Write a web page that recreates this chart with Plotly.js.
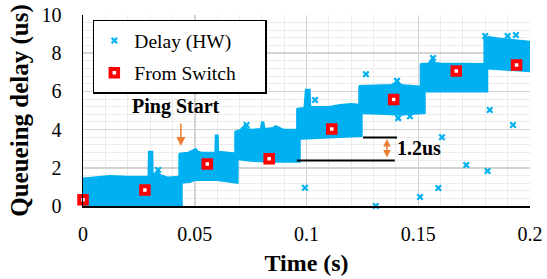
<!DOCTYPE html>
<html><head><meta charset="utf-8">
<script src="https://cdn.plot.ly/plotly-3.0.1.min.js"></script>
<style>html,body{margin:0;padding:0;background:#fff;}#chart{width:547px;height:279px;}</style>
</head><body><div id="chart"></div>
<script>
// ---- Data ----
// Dense HW-delay cloud, one block per step: top edge and bottom edge profiles
const bandTopT = [
  [-0.0008, 0.005, 0.012, 0.020, 0.0292, 0.0294, 0.0311, 0.0313, 0.0328, 0.0334, 0.0342, 0.038, 0.0443],
  [0.0430, 0.047, 0.0505, 0.0515, 0.053, 0.0591, 0.0593, 0.0604, 0.0606, 0.065, 0.0693],
  [0.0680, 0.0705, 0.0725, 0.0735, 0.0755, 0.0795, 0.0800, 0.0808, 0.0813, 0.085, 0.0862, 0.090, 0.0971],
  [0.0957, 0.0990, 0.0996, 0.1015, 0.1018, 0.110, 0.115, 0.120, 0.1248],
  [0.1235, 0.130, 0.138, 0.1405, 0.143, 0.148, 0.1530],
  [0.1510, 0.1545, 0.1562, 0.1575, 0.160, 0.170, 0.1810],
  [0.1795, 0.1815, 0.186, 0.192, 0.197, 0.2013]
];
const bandTopY = [
  [1.45, 1.52, 1.58, 1.55, 1.55, 2.85, 2.85, 1.70, 1.70, 1.95, 1.65, 1.50, 1.55],
  [2.75, 2.80, 3.00, 2.85, 2.80, 2.82, 3.70, 3.70, 2.85, 2.80, 2.75],
  [3.90, 4.00, 4.25, 4.05, 4.00, 4.05, 4.40, 4.40, 4.05, 4.10, 4.20, 4.00, 4.00],
  [5.10, 5.15, 6.10, 6.10, 5.20, 5.20, 5.30, 5.35, 5.30],
  [6.30, 6.33, 6.35, 6.50, 6.33, 6.30, 6.25],
  [7.45, 7.47, 7.72, 7.50, 7.48, 7.47, 7.45],
  [8.80, 8.86, 8.78, 8.70, 8.65, 8.60]
];
const bandBotT = [
  [-0.0008, 0.015, 0.030, 0.0443],
  [0.0430, 0.048, 0.050, 0.060, 0.0693],
  [0.0680, 0.075, 0.085, 0.0971],
  [0.0957, 0.105, 0.115, 0.1248],
  [0.1235, 0.135, 0.142, 0.1530],
  [0.1510, 0.165, 0.1810],
  [0.1795, 0.190, 0.2013]
];
const bandBotY = [
  [-0.05, -0.05, -0.05, -0.05],
  [1.20, 1.25, 1.35, 1.35, 1.20],
  [2.45, 2.35, 2.30, 2.30],
  [3.50, 3.55, 3.60, 3.65],
  [4.85, 4.80, 4.76, 4.85],
  [5.98, 5.97, 5.98],
  [7.20, 7.12, 7.03]
];
// Scattered HW-delay outliers
const outT = [0.0336, 0.0732, 0.0993, 0.1038, 0.1266, 0.1310, 0.1405, 0.1410, 0.1463, 0.1508, 0.1566, 0.1590, 0.1606, 0.1715, 0.1800, 0.1810, 0.1820, 0.1900, 0.1924, 0.1937];
const outY = [1.88, 4.24, 0.96, 5.55, 6.90, 0.00, 6.55, 4.60, 4.70, 0.47, 7.75, 0.94, 3.60, 2.15, 8.90, 1.83, 5.03, 8.90, 4.24, 8.95];
// Values reported by the switch
const swT = [0.000, 0.0277, 0.0556, 0.0833, 0.1113, 0.1390, 0.1670, 0.1940];
const swY = [0.33, 0.84, 2.20, 2.47, 4.03, 5.57, 7.07, 7.38];
// Annotation anchors (data units)
const pingArrowT = 0.0438, pingArrowFrom = 4.40, pingArrowTo = 3.14;
const pingLabelT = 0.0416, pingLabelY = 5.2;
const stepLineUpper = {t0: 0.1253, t1: 0.1405, y: 3.59};
const stepLineLower = {t0: 0.0957, t1: 0.1395, y: 2.38};
const stepArrowT = 0.1360;
const stepLabel = '1.2us';
const xTicks = [0, 0.05, 0.1, 0.15, 0.2];
const xTickText = ['0', '0.05', '0.1', '0.15', '0.2'];
const yTicks = [0, 2, 4, 6, 8, 10];

const BLUE = '#00b0f0', RED = '#ff0000', ORANGE = '#ed7d31';
const FONT = 'Liberation Serif';

const traces = [];
for (let i = 0; i < bandTopT.length; i++) {
  const xs = bandTopT[i].concat(bandBotT[i].slice().reverse());
  const ys = bandTopY[i].concat(bandBotY[i].slice().reverse());
  xs.push(xs[0]); ys.push(ys[0]);
  traces.push({x: xs, y: ys, type: 'scatter', mode: 'lines', fill: 'toself',
    fillcolor: BLUE, line: {color: BLUE, width: 1.5}, showlegend: false, hoverinfo: 'skip'});
}
traces.push({x: outT, y: outY, type: 'scatter', mode: 'markers', name: 'Delay (HW)',
  legendgroup: 'a', marker: {symbol: 'x-thin', size: 5.5, color: BLUE, line: {color: BLUE, width: 2.2}}, cliponaxis: false});
traces.push({x: swT, y: swY, type: 'scatter', mode: 'markers', name: 'From Switch&nbsp;&nbsp;&nbsp;&nbsp;&nbsp;',
  legendgroup: 'b', marker: {symbol: 'square', size: 7.5, color: '#ffffff', line: {color: RED, width: 4}}, cliponaxis: false});

const layout = {
  width: 547, height: 279,
  margin: {l: 83, r: 17, t: 15, b: 73},
  paper_bgcolor: '#fff', plot_bgcolor: '#fff',
  font: {family: FONT, size: 19, color: '#000'},
  showlegend: true,
  legend: {x: 0.022, y: 0.975, xanchor: 'left', yanchor: 'top', bgcolor: '#fff',
    bordercolor: '#000', borderwidth: 1.5, font: {family: FONT, size: 19.5, color: '#000'},
    tracegroupgap: 4, itemsizing: 'trace'},
  xaxis: {range: [0, 0.2], tickvals: xTicks, ticktext: xTickText, showgrid: true,
    gridcolor: '#d4d4d4', gridwidth: 1.5, showline: true, linecolor: '#000', linewidth: 1.5,
    zeroline: false, ticks: '', ticklabelstandoff: 9, tickfont: {family: FONT, size: 20},
    minor: {dtick: 0.01, showgrid: true, gridcolor: '#ececec', gridwidth: 1},
    title: {text: '<b>Time (s)</b>', font: {family: FONT, size: 24}, standoff: 10}},
  yaxis: {range: [0, 10], tickvals: yTicks, showgrid: true,
    gridcolor: '#d4d4d4', gridwidth: 1.5, showline: true, linecolor: '#000', linewidth: 1.5,
    zeroline: false, ticks: '', ticklabelstandoff: 16, tickfont: {family: FONT, size: 20},
    minor: {dtick: 0.4, showgrid: true, gridcolor: '#ececec', gridwidth: 1},
    title: {text: '<b>Queueing delay (us)</b>', font: {family: FONT, size: 25}, standoff: 6}},
  shapes: [
    {type: 'line', xref: 'x', yref: 'y', x0: stepLineUpper.t0, x1: stepLineUpper.t1, y0: stepLineUpper.y, y1: stepLineUpper.y, line: {color: '#000', width: 2}},
    {type: 'line', xref: 'x', yref: 'y', x0: stepLineLower.t0, x1: stepLineLower.t1, y0: stepLineLower.y, y1: stepLineLower.y, line: {color: '#000', width: 2}}
  ],
  annotations: [
    {x: pingLabelT, y: pingLabelY, xref: 'x', yref: 'y', text: '<b>Ping Start</b>', showarrow: false,
      font: {family: FONT, size: 20, color: '#000'}},
    {x: pingArrowT, y: pingArrowTo, ax: pingArrowT, ay: pingArrowFrom, xref: 'x', yref: 'y', axref: 'x', ayref: 'y',
      text: '', showarrow: true, arrowhead: 2, arrowsize: 1.2, arrowwidth: 1.5, arrowcolor: ORANGE},
    {x: stepArrowT, y: stepLineUpper.y - 0.08, ax: stepArrowT, ay: stepLineLower.y + 0.08, xref: 'x', yref: 'y', axref: 'x', ayref: 'y',
      text: '', showarrow: true, arrowhead: 2, startarrowhead: 2, arrowside: 'end+start', arrowsize: 1, arrowwidth: 1.5, arrowcolor: ORANGE},
    {x: stepArrowT + 0.0035, y: (stepLineUpper.y + stepLineLower.y) / 2 + 0.05, xref: 'x', yref: 'y', text: '<b>' + stepLabel + '</b>',
      showarrow: false, xanchor: 'left', font: {family: FONT, size: 20, color: '#000'}}
  ]
};
Plotly.newPlot('chart', traces, layout, {staticPlot: true, displayModeBar: false});
</script></body></html>
